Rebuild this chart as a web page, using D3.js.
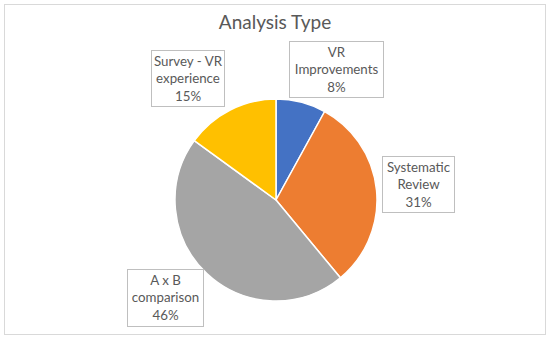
<!DOCTYPE html>
<html><head><meta charset="utf-8">
<script src="https://cdn.jsdelivr.net/npm/d3@7"></script>
<style>body{margin:0;background:#fff}svg{display:block}text{font-family:Lato,"Noto Sans",sans-serif}</style>
</head><body><svg id="c" width="550" height="339"></svg>
<script>
const categories = ["VR Improvements", "Systematic Review", "A x B comparison", "Survey - VR experience"];
const values = [8, 31, 46, 15];
const labelLines = [["VR", "Improvements", "8%"], ["Systematic", "Review", "31%"], ["A x B", "comparison", "46%"], ["Survey - VR", "experience", "15%"]];
const colors = ["#4472C4", "#ED7D31", "#A5A5A5", "#FFC000"];
// label box positions (top-left, size)
const boxes = [[289, 41, 94, 56], [382, 156, 72, 56], [127, 269, 76, 57], [151, 50, 73, 56]];

const svg = d3.select("#c");
svg.append("rect").attr("x", 4.5).attr("y", 4.5).attr("width", 541).attr("height", 330)
  .attr("fill", "#fff").attr("stroke", "#d9d9d9").attr("stroke-width", 1);

svg.append("text").attr("x", 275).attr("y", 29).attr("text-anchor", "middle")
  .attr("font-size", 19).attr("fill", "#595959").text("Analysis Type");

const cx = 276, cy = 200, r = 101;
const pie = d3.pie().sort(null).value(d => d);
const arc = d3.arc().innerRadius(0).outerRadius(r);
const g = svg.append("g").attr("transform", `translate(${cx},${cy})`);
g.selectAll("path").data(pie(values)).join("path")
  .attr("d", arc).attr("fill", (d, i) => colors[i])
  .attr("stroke", "#fff").attr("stroke-width", 1.5).attr("stroke-linejoin", "round");

const lg = svg.append("g");
boxes.forEach((b, i) => {
  lg.append("rect").attr("x", b[0] + 0.5).attr("y", b[1] + 0.5).attr("width", b[2]).attr("height", b[3])
    .attr("fill", "#fff").attr("stroke", "#bfbfbf").attr("stroke-width", 1);
  labelLines[i].forEach((t, j) => {
    lg.append("text").attr("x", b[0] + b[2] / 2 + 0.5).attr("y", b[1] + 16 + j * 17.3)
      .attr("text-anchor", "middle").attr("font-size", 13.3).attr("fill", "#595959").text(t);
  });
});
</script></body></html>
